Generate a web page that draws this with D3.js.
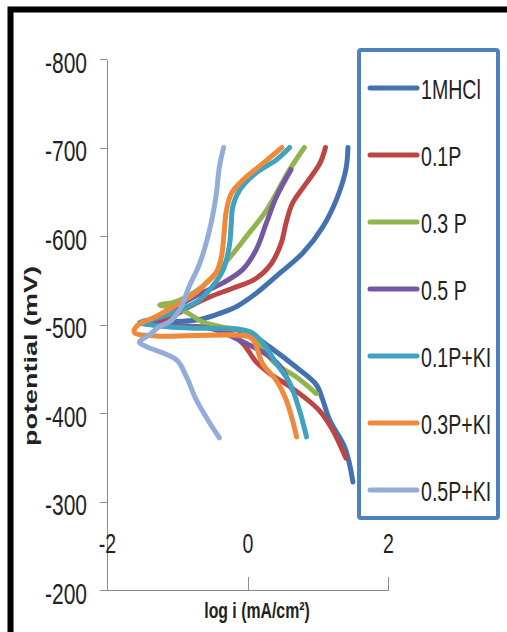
<!DOCTYPE html>
<html lang="en">
<head>
    <meta charset="UTF-8">
    <title>Polarization curves</title>
</head>
<style>
    body { margin: 0; background: #fff; }
    text { font-family: "Liberation Sans", Arial, sans-serif; fill: #222; }
    .axis path, .axis line { stroke: #8c8c8c; stroke-width: 1px; shape-rendering: crispEdges; }
    .curve { fill: none; stroke-width: 5px; stroke-linejoin: round; stroke-linecap: round; }
</style>
<body>
<script src="https://d3js.org/d3.v7.min.js"></script>
<script>
    const width = 507, height = 632;

    // [log i, potential mV]
    const hcl = [[1.43, -700], [1.40, -675], [1.28, -644], [1.07, -610], [0.79, -581], [0.46, -558], [0.12, -535],
        [-0.16, -520], [-0.45, -511], [-0.73, -505], [-1.1, -503], [-1.5, -502], [-1.0, -497], [-0.35, -496],
        [0.03, -490], [0.31, -475], [0.69, -452], [0.98, -432], [1.07, -415], [1.17, -392], [1.38, -362],
        [1.45, -343], [1.50, -322]];
    const p01 = [[1.11, -700], [1.03, -682], [0.84, -660], [0.64, -637], [0.55, -615], [0.48, -592], [0.34, -569],
        [0.12, -552], [-0.21, -541], [-0.54, -531], [-0.83, -520], [-1.07, -509], [-1.35, -502], [-1.1, -499],
        [-0.35, -494], [-0.07, -479], [0.12, -458], [0.31, -445], [0.60, -430], [0.79, -419], [1.02, -403],
        [1.21, -381], [1.40, -349]];
    const p03 = [[0.81, -700], [0.60, -675], [0.27, -629], [-0.02, -599], [-0.26, -575], [-0.45, -558],
        [-0.64, -543], [-0.87, -531], [-1.05, -525], [-1.25, -522], [-0.97, -518], [-0.83, -512], [-0.64, -503],
        [-0.35, -497], [-0.05, -493], [0.15, -478], [0.41, -455], [0.69, -441], [0.98, -422]];
    const p05 = [[0.62, -675], [0.41, -644], [0.27, -615], [0.12, -584], [-0.07, -562], [-0.35, -547],
        [-0.64, -536], [-0.92, -524], [-1.21, -509], [-1.4, -502], [-1.1, -499], [-0.5, -495], [-0.11, -482],
        [0.31, -464], [0.50, -449], [0.60, -432], [0.64, -426]];
    const p01ki = [[0.60, -700], [0.41, -686], [0.12, -671], [-0.11, -652], [-0.21, -633], [-0.23, -615],
        [-0.26, -588], [-0.35, -561], [-0.50, -543], [-0.68, -528], [-0.97, -516], [-1.30, -507], [-1.54, -502],
        [-1.2, -498], [-0.83, -496], [0.03, -492], [0.22, -479], [0.41, -456], [0.60, -434], [0.74, -403],
        [0.84, -373]];
    const p03ki = [[0.49, -700], [0.22, -682], [-0.07, -663], [-0.23, -648], [-0.30, -629], [-0.33, -607],
        [-0.37, -577], [-0.45, -558], [-0.59, -547], [-0.73, -536], [-0.97, -524], [-1.30, -509], [-1.58, -498],
        [-1.61, -491], [-1.30, -487], [0.03, -486], [0.10, -480], [0.22, -455], [0.41, -437], [0.55, -415],
        [0.64, -392], [0.70, -373]];
    const p05ki = [[-0.34, -700], [-0.40, -678], [-0.45, -644], [-0.54, -607], [-0.68, -569], [-0.83, -543],
        [-0.97, -516], [-1.11, -503], [-1.25, -498], [-1.40, -488], [-1.54, -480], [-1.44, -475], [-1.01, -460],
        [-0.87, -441], [-0.73, -415], [-0.54, -389], [-0.40, -372]];

    const names = ["1MHCl", "0.1P", "0.3 P", "0.5 P", "0.1P+KI", "0.3P+KI", "0.5P+KI"];
    const seriesData = [hcl, p01, p03, p05, p01ki, p03ki, p05ki];
    const colors = ["#4472b0", "#bc4643", "#92b44f", "#7657a0", "#3fa3bf", "#ef8a3c", "#93acd8"];
    const yTicks = [-800, -700, -600, -500, -400, -300, -200];
    const xTicks = [-2, 0, 2];

    const svg = d3.select("body").append("svg")
        .attr("width", width)
        .attr("height", height);

    svg.append("rect").attr("width", width).attr("height", height).attr("fill", "#fff");

    // frame (top + left only visible)
    svg.append("path")
        .attr("d", "M10.5," + height + "V9.5H" + width)
        .attr("fill", "none")
        .attr("stroke", "#000")
        .attr("stroke-width", 6);

    const x = d3.scaleLinear().domain([-2, 2]).range([107, 388]);
    const y = d3.scaleLinear().domain([-800, -200]).range([59, 590]);

    // plain hyphen, as in the original
    const fmt = function (d) { return String(d); };

    const yAxis = svg.append("g")
        .attr("class", "axis")
        .attr("transform", "translate(107,0)")
        .call(d3.axisLeft(y).tickValues(yTicks).tickSize(7).tickSizeOuter(0).tickFormat(fmt));
    yAxis.selectAll("text")
        .attr("x", null).attr("dy", null)
        .attr("dominant-baseline", "central")
        .attr("transform", "translate(-20,3) scale(0.7,1)")
        .style("font-size", "30px")
        .style("fill", "#222");

    const xAxis = svg.append("g")
        .attr("class", "axis")
        .attr("transform", "translate(0,590)")
        .call(d3.axisBottom(x).tickValues(xTicks).tickSize(-13).tickSizeOuter(0).tickFormat(fmt));
    xAxis.selectAll("text")
        .attr("y", null).attr("dy", null)
        .attr("dominant-baseline", "central")
        .attr("transform", "translate(0,-47) scale(0.7,1)")
        .style("font-size", "28px")
        .style("fill", "#222");
    svg.selectAll(".axis").attr("font-family", null);

    svg.append("text")
        .attr("transform", "translate(257,611) scale(0.72,1)")
        .attr("text-anchor", "middle")
        .attr("dominant-baseline", "central")
        .style("font-size", "22px")
        .style("font-weight", "bold")
        .text("log i (mA/cm²)");

    svg.append("text")
        .attr("transform", "translate(31,356) rotate(-90) scale(1,0.7)")
        .attr("text-anchor", "middle")
        .attr("dominant-baseline", "central")
        .style("font-size", "27px")
        .style("font-weight", "bold")
        .text("potential (mV)");

    const line = d3.line()
        .x(function (d) { return x(d[0]); })
        .y(function (d) { return y(d[1]); })
        .curve(d3.curveCatmullRom.alpha(0.5));

    svg.selectAll("path.curve")
        .data(seriesData)
        .enter().append("path")
        .attr("class", "curve")
        .attr("stroke", function (d, i) { return colors[i]; })
        .attr("d", line);

    // legend
    svg.append("rect")
        .attr("x", 359).attr("y", 50)
        .attr("width", 139).attr("height", 468)
        .attr("rx", 2)
        .attr("fill", "#fff")
        .attr("stroke", "#4f81bd")
        .attr("stroke-width", 4);

    const legend = svg.selectAll("g.legend")
        .data(names)
        .enter().append("g")
        .attr("class", "legend")
        .attr("transform", function (d, i) { return "translate(0," + (88 + i * 67) + ")"; });
    legend.append("line")
        .attr("x1", 370).attr("x2", 417)
        .attr("stroke", function (d, i) { return colors[i]; })
        .attr("stroke-width", 5)
        .attr("stroke-linecap", "round");
    legend.append("text")
        .attr("transform", "translate(421,1) scale(0.7,1)")
        .attr("dominant-baseline", "central")
        .style("font-size", "28px")
        .text(function (d) { return d; });
</script>
</body>
</html>
